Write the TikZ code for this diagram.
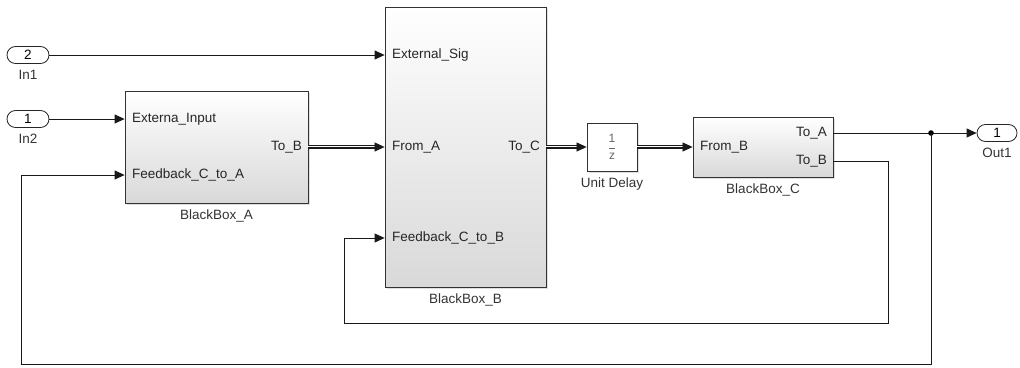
\documentclass[tikz,border=0pt]{standalone}
\usepackage{amsmath}
\usepackage{fontspec}
\setmainfont{Liberation Sans}
\usetikzlibrary{arrows.meta, positioning, calc, shapes.misc, shadows}

\begin{document}
\begin{tikzpicture}[x=1pt, y=-1pt, >={Triangle[length=10pt, width=9pt]},
  font=\fontsize{13.5}{15}\selectfont,
  wire/.style={draw=black!90, line width=0.8pt},
  bus/.style={draw=black!90, line width=0.8pt, double=white, double distance=2.2pt, shorten >=8pt},
  blockbox/.style={draw=black!80, line width=0.8pt, top color=white, bottom color=black!15,
    drop shadow={shadow xshift=2pt, shadow yshift=-2pt, opacity=0.25}, inner sep=0pt},
  portbox/.style={rounded rectangle, draw=black!85, line width=0.8pt, fill=white,
    minimum width=42pt, minimum height=17pt, inner sep=0pt},
  portname/.style={text=black!85, inner sep=1pt},
  blockname/.style={text=black!80, inner sep=1pt}]
  \useasboundingbox (0,0) rectangle (1020,367);
  % blocks
  \node[blockbox, minimum width=183pt, minimum height=112pt] (bbA) at (216.5,147) {};
  \node[blockbox, minimum width=161pt, minimum height=280pt] (bbB) at (465.5,147) {};
  \node[blockbox, top color=white, bottom color=white, minimum width=50pt, minimum height=48pt] (delay) at (612,147) {};
  \node[blockbox, minimum width=140pt, minimum height=60pt] (bbC) at (763,147) {};
  \node[text=black!60, font=\fontsize{12}{12}\selectfont] at (delay) {$\dfrac{\text{1}}{\text{z}}$};
  % block names
  \node[blockname, below=5pt of bbA] {BlackBox\_A};
  \node[blockname, below=5pt of bbB] {BlackBox\_B};
  \node[blockname, below=5pt of delay] {Unit Delay};
  \node[blockname, below=5pt of bbC] {BlackBox\_C};
  % in/out ports
  \node[portbox] (in1) at (28,55) {2};
  \node[portbox] (in2) at (28,119) {1};
  \node[portbox, minimum width=40pt] (out1) at (997,133) {1};
  \node[blockname, below=5pt of in1] {In1};
  \node[blockname, below=5pt of in2] {In2};
  \node[blockname, below=5pt of out1] {Out1};
  % port names
  \node[portname, anchor=west] (aExt) at (131,119) {Externa\_Input};
  \node[portname, anchor=west] (aFb) at (131,175) {Feedback\_C\_to\_A};
  \node[portname, anchor=east] (aToB) at (303,147) {To\_B};
  \node[portname, anchor=west] (bExt) at (391,55) {External\_Sig};
  \node[portname, anchor=west] (bFromA) at (391,147) {From\_A};
  \node[portname, anchor=west] (bFb) at (391,238) {Feedback\_C\_to\_B};
  \node[portname, anchor=east] (bToC) at (541,147) {To\_C};
  \node[portname, anchor=west] (cFromB) at (699,147) {From\_B};
  \node[portname, anchor=east] (cToA) at (828,133) {To\_A};
  \node[portname, anchor=east] (cToB) at (828,161) {To\_B};
  % routing points
  \coordinate (jn) at (931,133);
  \coordinate (innerR) at (888,323);
  \coordinate (innerL) at (344,323);
  \coordinate (outerR) at (931,364);
  \coordinate (outerL) at (21,364);
  % signals
  \draw[wire, ->] (in1.east) -- (bbB.west |- bExt);
  \draw[wire, ->] (in2.east) -- (bbA.west |- aExt);
  \draw[wire, ->] (bbC.east |- cToA) -- (out1.west);
  \fill[black] (jn) circle (2.8);
  \draw[wire, ->] (bbC.east |- cToB) -| (innerR) -- (innerL) |- (bbB.west |- bFb);
  \draw[wire, ->] (jn) -- (outerR) -- (outerL) |- (bbA.west |- aFb);
  % buses
  \foreach \src/\dst in {{bbA.east |- aToB}/{bbB.west |- bFromA}, {bbB.east |- bToC}/{delay.west}, {delay.east}/{bbC.west}}{
    \draw[bus] (\src) -- (\dst);
    \draw[wire, line width=0.7pt, ->] (\src) -- (\dst);
  }
\end{tikzpicture}
\end{document}
